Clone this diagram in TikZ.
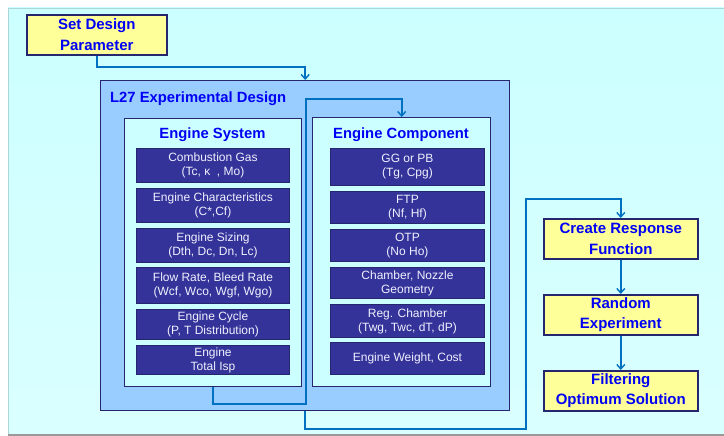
\documentclass[tikz,border=0pt]{standalone}
\usepackage{fontspec}
\setmainfont{Liberation Sans}
\usetikzlibrary{arrows.meta,calc}

\definecolor{bgtop}{RGB}{204,255,255}
\definecolor{bgbot}{RGB}{218,255,255}
\definecolor{bgedge}{RGB}{170,214,214}
\definecolor{navy}{RGB}{38,38,110}
\definecolor{itemfill}{RGB}{51,51,153}
\definecolor{itemtext}{RGB}{240,240,255}
\definecolor{panel}{RGB}{153,204,255}
\definecolor{inner}{RGB}{204,255,255}
\definecolor{stepfill}{RGB}{255,255,153}
\definecolor{flowblue}{RGB}{0,112,192}
\definecolor{titleblue}{RGB}{0,0,245}

\tikzset{
  stepbox/.style={draw=navy, line width=1.6pt, fill=stepfill, anchor=north west,
    inner sep=0pt, align=center, text=titleblue,
    font=\fontsize{15}{20.5}\selectfont\bfseries},
  panelbox/.style={draw=navy, line width=1.4pt, anchor=north west, inner sep=0pt},
  itembox/.style={draw=navy, line width=0.9pt, fill=itemfill, anchor=north west,
    inner sep=0pt, align=center, text=itemtext,
    font=\fontsize{12}{14}\selectfont},
  paneltitle/.style={text=titleblue, inner sep=0pt,
    font=\fontsize{14.8}{17}\selectfont\bfseries},
  flow/.style={draw=flowblue, line width=1.6pt,
    -{Straight Barb[length=4.5pt,width=8pt,line width=1.4pt]}},
}

\begin{document}
\begin{tikzpicture}[x=1pt,y=-1pt]
\useasboundingbox (0,0) rectangle (724,436);

% backdrop
\shade[top color=bgtop, bottom color=bgbot] (8,8) rectangle (724,434);
\draw[bgedge, line width=0.8pt] (8.4,434) -- (8.4,8.4) -- (724,8.4);
\fill[gray!80] (8,433.5) rectangle (724,436);

% start step
\node[stepbox, minimum width=140pt, minimum height=40pt] (set) at (26,14)
  {Set Design\\Parameter};

% L27 panel
\node[panelbox, fill=panel, minimum width=409pt, minimum height=330pt] (l27) at (100,80) {};
\node[paneltitle, anchor=west] (l27title) at (110,99) {L27 Experimental Design};

% Engine System panel
\node[panelbox, fill=inner, minimum width=177pt, minimum height=268pt] (sys) at (124,118) {};
\node[paneltitle] (systitle) at (212.5,135) {Engine System};
\node[itembox, minimum width=153pt, minimum height=34pt] (s1) at (136,148) {Combustion Gas\\(Tc, κ\ \ , Mo)};
\node[itembox, minimum width=153pt, minimum height=34pt] (s2) at (136,188) {Engine Characteristics\\(C*,Cf)};
\node[itembox, minimum width=153pt, minimum height=34pt] (s3) at (136,228) {Engine Sizing\\(Dth, Dc, Dn, Lc)};
\node[itembox, minimum width=153pt, minimum height=36pt] (s4) at (136,267) {Flow Rate, Bleed Rate\\(Wcf, Wco, Wgf, Wgo)};
\node[itembox, minimum width=153pt, minimum height=30pt] (s5) at (136,309) {Engine Cycle\\(P, T Distribution)};
\node[itembox, minimum width=153pt, minimum height=29pt] (s6) at (136,345) {Engine\\Total Isp};

% Engine Component panel
\node[panelbox, fill=inner, minimum width=178pt, minimum height=269pt] (comp) at (312,117) {};
\node[paneltitle] (comptitle) at (401,135) {Engine Component};
\node[itembox, minimum width=154pt, minimum height=37pt] (c1) at (330,148) {GG or PB\\(Tg, Cpg)};
\node[itembox, minimum width=154pt, minimum height=32pt] (c2) at (330,191) {FTP\\(Nf, Hf)};
\node[itembox, minimum width=154pt, minimum height=32pt] (c3) at (330,229) {OTP\\(No Ho)};
\node[itembox, minimum width=154pt, minimum height=31pt] (c4) at (330,267) {Chamber, Nozzle\\Geometry};
\node[itembox, minimum width=154pt, minimum height=33pt] (c5) at (330,304) {Reg. Chamber\\(Twg, Twc, dT, dP)};
\node[itembox, minimum width=154pt, minimum height=32pt] (c6) at (330,342) {Engine Weight, Cost};

% later steps
\node[stepbox, minimum width=154pt, minimum height=40pt] (crf) at (543,218) {Create Response\\Function};
\node[stepbox, minimum width=154pt, minimum height=40pt] (rnd) at (543,294) {Random\\Experiment};
\node[stepbox, minimum width=154pt, minimum height=40pt] (flt) at (543,370) {Filtering\\Optimum Solution};

% connectors
\coordinate (k1) at (0,67);
\draw[flow] (set.south) |- (l27.north |- k1) -- (l27.north);

\coordinate (k2) at (306,404);
\coordinate (k3) at (0,99);
\draw[flow] (sys.south) |- (k2) |- (comp.north |- k3) -- (comp.north);

\coordinate (k4) at (526,429);
\coordinate (k5) at (0,199);
\draw[flow] (l27.south) |- (k4) |- (crf.north |- k5) -- (crf.north);

\draw[flow] (crf.south) -- (rnd.north);
\draw[flow] (rnd.south) -- (flt.north);
\end{tikzpicture}
\end{document}
